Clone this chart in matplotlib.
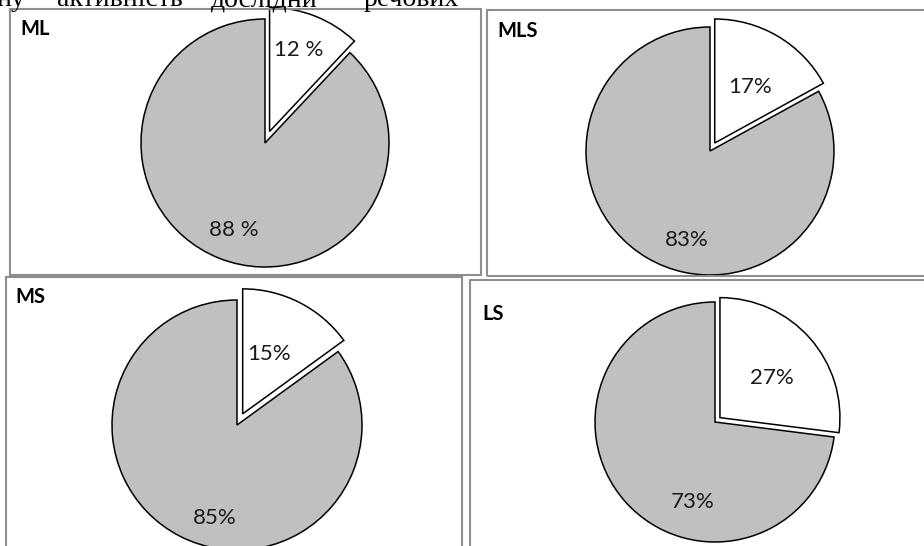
import numpy as np
import matplotlib.pyplot as plt
from matplotlib.patches import Rectangle

# --- data ---
titles = ["ML", "MLS", "MS", "LS"]
white_share = [12, 17, 15, 27]
grey_share = [88, 83, 85, 73]
label_fmt = ["{} %", "{}%", "{}%", "{}%"]
header_words = ["ну", "активність", "досліднй", "речових"]

# --- layout (pixels, top-left origin) ---
W, H = 924, 546
panels = [(10, 9, 481, 275), (487, 10, 935, 276), (6, 277, 462, 555), (470, 280, 935, 555)]
centers = [(265, 143), (710, 151), (237, 425), (715, 422)]
radii = [124, 124, 125, 120]
explode = [0.10, 0.075, 0.10, 0.055]
title_pos = [(20, 29), (497, 31), (15, 297), (482, 314)]
# label positions in pie units, relative to pie centre
lab_white = [(0.27, 0.75), (0.32, 0.52), (0.26, 0.57), (0.475, 0.37)]
lab_grey = [(-0.25, -0.70), (-0.19, -0.72), (-0.18, -0.74), (-0.19, -0.67)]
header_x = [-4, 57, 211, 364]

fig = plt.figure(figsize=(W / 100, H / 100), dpi=100)
fig.patch.set_facecolor("white")


def fx(x):
    return x / W


def fy(y):
    return 1 - y / H


# header line, cut by the top edge like in the source scan
for word, x in zip(header_words, header_x):
    fig.text(fx(x), fy(6), word, fontsize=20, family="Liberation Serif",
             ha="left", va="baseline", color="black")

for i in range(4):
    x0, y0, x1, y1 = panels[i]
    fig.patches.append(Rectangle((fx(x0), fy(y1)), fx(x1 - x0), (y1 - y0) / H,
                                 transform=fig.transFigure, fill=False,
                                 edgecolor="#8e8e8e", linewidth=1.5, zorder=1))
    fig.text(fx(title_pos[i][0]), fy(title_pos[i][1]), titles[i], fontsize=14.5,
             fontweight="bold", family="Lato", ha="left", va="center")

    cx, cy = centers[i]
    r = radii[i]
    s = 1.3 * r
    ax = fig.add_axes([fx(cx - s), fy(cy + s), 2 * s / W, 2 * s / H])
    ax.pie([white_share[i], grey_share[i]], colors=["white", "#c0c0c0"],
           startangle=90, counterclock=False, explode=[explode[i], 0],
           wedgeprops=dict(edgecolor="black", linewidth=1.1))
    ax.set_xlim(-1.3, 1.3)
    ax.set_ylim(-1.3, 1.3)
    ax.set_aspect("equal")
    ax.axis("off")
    ax.patch.set_alpha(0)
    ax.text(*lab_white[i], label_fmt[i].format(white_share[i]), fontsize=16,
            family="Lato", ha="center", va="center", color="#1a1a1a")
    ax.text(*lab_grey[i], label_fmt[i].format(grey_share[i]), fontsize=16,
            family="Lato", ha="center", va="center", color="#1a1a1a")

fig.savefig("out.png", dpi=100)
